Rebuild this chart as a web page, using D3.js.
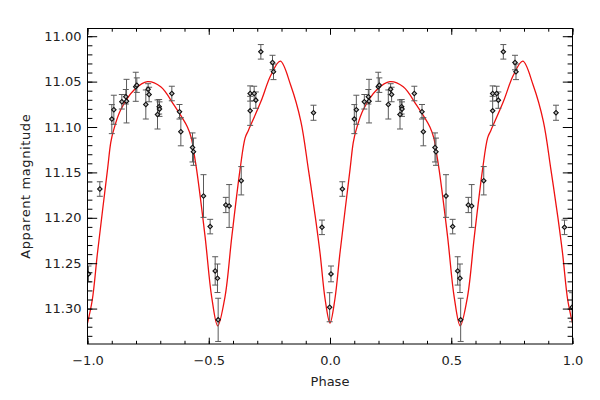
<!DOCTYPE html>
<html>
<head>
<meta charset="utf-8">
<script src="https://cdn.jsdelivr.net/npm/d3@7"></script>
<style>
  body { margin: 0; background: #fff; }
  text { font-family: "DejaVu Sans", sans-serif; fill: #222; }
</style>
</head>
<body>
<div id="chart"></div>
<script>
// observed points (phase in 0..1), magnitude and error
var obsPhase = [0.1003, 0.1086, 0.1416, 0.158, 0.161, 0.199, 0.2034, 0.2405, 0.250, 0.254,
                0.2887, 0.2955, 0.2969, 0.3478, 0.3794, 0.3849, 0.433, 0.437, 0.4784, 0.5058,
                0.5265, 0.536, 0.5388, 0.5704, 0.5842, 0.634, 0.6708, 0.6873, 0.6708, 0.6942,
                0.7148, 0.7629, 0.767, 0.932, 0.967, 0.0041, 0.9986, 0.0509];
var obsMag = [11.0913, 11.0810, 11.0722, 11.0667, 11.0715, 11.0557, 11.0539, 11.0752, 11.0583, 11.0642,
              11.0862, 11.0777, 11.0803, 11.0631, 11.0832, 11.1052, 11.1225, 11.1272, 11.176, 11.2097,
              11.2585, 11.2666, 11.3124, 11.1859, 11.187, 11.1592, 11.0631, 11.0631, 11.0822, 11.0704,
              11.0172, 11.029, 11.0392, 11.0843, 11.2105, 11.2618, 11.2985, 11.1683];
var obsErr = [0.016, 0.016, 0.008, 0.008, 0.024, 0.016, 0.008, 0.016, 0.006, 0.008,
              0.016, 0.008, 0.008, 0.008, 0.008, 0.0155, 0.016, 0.015, 0.0235, 0.008,
              0.0156, 0.0157, 0.0238, 0.0084, 0.0236, 0.0156, 0.0084, 0.008, 0.016, 0.009,
              0.008, 0.008, 0.0086, 0.0083, 0.008, 0.0087, 0.016, 0.008];

// model light curve over one cycle
var curvePhase = [0.000, 0.020, 0.041, 0.062, 0.0825, 0.096, 0.107, 0.137, 0.193, 0.247,
                  0.302, 0.357, 0.412, 0.428, 0.440, 0.450, 0.485, 0.512, 0.537, 0.567,
                  0.595, 0.629, 0.650, 0.663, 0.715, 0.756, 0.795, 0.838, 0.880, 0.911,
                  0.940, 0.959, 0.980, 1.000];
var curveMag = [11.316, 11.290, 11.239, 11.192, 11.147, 11.117, 11.104, 11.081, 11.059, 11.050,
                11.0557, 11.076, 11.100, 11.112, 11.130, 11.147, 11.221, 11.287, 11.319, 11.287,
                11.221, 11.147, 11.112, 11.104, 11.072, 11.043, 11.0275, 11.054, 11.094, 11.147,
                11.200, 11.239, 11.290, 11.316];

var xTicks = [-1.0, -0.5, 0.0, 0.5, 1.0];
var yTicks = [11.00, 11.05, 11.10, 11.15, 11.20, 11.25, 11.30];

drawChart();

function drawChart() {
  var width = 600, height = 400;
  var pL = 87.5, pR = 572.5, pT = 28.5, pB = 344;

  var svg = d3.select("#chart").append("svg")
    .attr("width", width)
    .attr("height", height);

  var x = d3.scaleLinear().domain([-1, 1]).range([pL, pR]);
  var y = d3.scaleLinear().domain([10.9915, 11.339]).range([pT, pB]);

  svg.append("clipPath").attr("id", "clip")
    .append("rect")
    .attr("x", pL).attr("y", pT)
    .attr("width", pR - pL).attr("height", pB - pT);

  var plot = svg.append("g").attr("clip-path", "url(#clip)");

  // curve, two cycles
  var curvePts = [];
  [-1, 0].forEach(function(shift) {
    curvePhase.forEach(function(p, i) {
      if (shift === 0 && i === 0) return;
      curvePts.push([p + shift, curveMag[i]]);
    });
  });

  var line = d3.line()
    .x(function(d) { return x(d[0]); })
    .y(function(d) { return y(d[1]); })
    .curve(d3.curveCatmullRom.alpha(0.5));

  plot.append("path")
    .datum(curvePts)
    .attr("d", line)
    .attr("fill", "none")
    .attr("stroke", "#ee1111")
    .attr("stroke-width", 1.3);

  // points, repeated per cycle and kept inside [-1, 1]
  var pts = [];
  obsPhase.forEach(function(p, i) {
    [-1, 0].forEach(function(shift) {
      var ph = p + shift;
      if (ph >= -1 && ph <= 1) pts.push({p: ph, m: obsMag[i], e: obsErr[i]});
    });
  });

  var bars = plot.selectAll("g.bar").data(pts).enter().append("g").attr("class", "bar")
    .attr("stroke", "#5a5a5a").attr("stroke-width", 1);
  bars.append("line")
    .attr("x1", function(d) { return x(d.p); }).attr("x2", function(d) { return x(d.p); })
    .attr("y1", function(d) { return y(d.m - d.e); }).attr("y2", function(d) { return y(d.m + d.e); });
  bars.append("line")
    .attr("x1", function(d) { return x(d.p) - 3; }).attr("x2", function(d) { return x(d.p) + 3; })
    .attr("y1", function(d) { return y(d.m - d.e); }).attr("y2", function(d) { return y(d.m - d.e); });
  bars.append("line")
    .attr("x1", function(d) { return x(d.p) - 3; }).attr("x2", function(d) { return x(d.p) + 3; })
    .attr("y1", function(d) { return y(d.m + d.e); }).attr("y2", function(d) { return y(d.m + d.e); });

  // IDL style diamonds: rotated squares
  plot.selectAll("path.pt").data(pts).enter().append("path").attr("class", "pt")
    .attr("d", d3.symbol().type(d3.symbolSquare).size(10))
    .attr("transform", function(d) { return "translate(" + x(d.p) + "," + y(d.m) + ") rotate(45)"; })
    .attr("fill", "#bbb")
    .attr("stroke", "#111")
    .attr("stroke-width", 1.1);

  // frame
  svg.append("rect")
    .attr("x", pL).attr("y", pT)
    .attr("width", pR - pL).attr("height", pB - pT)
    .attr("fill", "none").attr("stroke", "#000").attr("stroke-width", 1);

  // axes with inward ticks on all sides
  var xMinor = d3.range(-10, 11).map(function(i) { return i / 10; });
  var yMinor = d3.range(0, 34).map(function(i) { return 11 + i / 100; });

  svg.append("g").attr("transform", "translate(0," + pB + ")")
    .call(d3.axisBottom(x).tickValues(xMinor).tickSize(-3.2).tickFormat(""));
  svg.append("g").attr("transform", "translate(0," + pB + ")")
    .call(d3.axisBottom(x).tickValues(xTicks).tickSize(-6.3).tickPadding(12).tickFormat(d3.format(".1f")));
  svg.append("g").attr("transform", "translate(0," + pT + ")")
    .call(d3.axisTop(x).tickValues(xMinor).tickSize(-3.2).tickFormat(""));
  svg.append("g").attr("transform", "translate(0," + pT + ")")
    .call(d3.axisTop(x).tickValues(xTicks).tickSize(-6.3).tickFormat(""));

  svg.append("g").attr("transform", "translate(" + pL + ",0)")
    .call(d3.axisLeft(y).tickValues(yMinor).tickSize(-4.9).tickFormat(""));
  svg.append("g").attr("transform", "translate(" + pL + ",0)")
    .call(d3.axisLeft(y).tickValues(yTicks).tickSize(-9.7).tickPadding(6).tickFormat(d3.format(".2f")));
  svg.append("g").attr("transform", "translate(" + pR + ",0)")
    .call(d3.axisRight(y).tickValues(yMinor).tickSize(-4.9).tickFormat(""));
  svg.append("g").attr("transform", "translate(" + pR + ",0)")
    .call(d3.axisRight(y).tickValues(yTicks).tickSize(-9.7).tickFormat(""));

  svg.selectAll(".domain").remove();
  svg.selectAll(".tick line").attr("stroke", "#000");
  svg.selectAll(".tick text")
    .style("font-family", "'DejaVu Sans', sans-serif")
    .style("font-size", "13px")
    .attr("fill", "#222");

  svg.append("text")
    .attr("x", (pL + pR) / 2).attr("y", 386)
    .attr("text-anchor", "middle")
    .style("font-size", "13px")
    .text("Phase");

  svg.append("text")
    .attr("transform", "translate(30," + ((pT + pB) / 2) + ") rotate(-90)")
    .attr("text-anchor", "middle")
    .style("font-size", "13px")
    .style("letter-spacing", "0.6px")
    .text("Apparent magnitude");
}
</script>
</body>
</html>
